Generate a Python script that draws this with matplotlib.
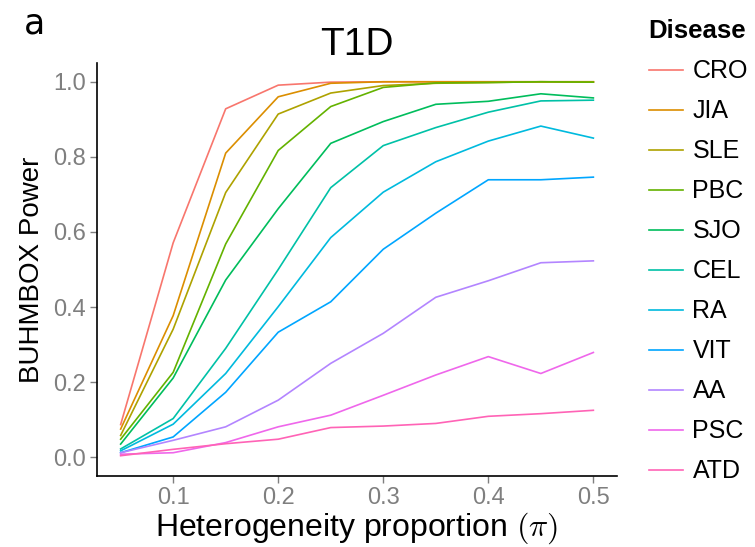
import matplotlib.pyplot as plt
import numpy as np

plt.rcParams['font.family'] = ['Liberation Sans', 'DejaVu Sans']
plt.rcParams['mathtext.fontset'] = 'cm'

# heterogeneity proportion
pi_vals = [0.05, 0.10, 0.15, 0.20, 0.25, 0.30, 0.35, 0.40, 0.45, 0.50]

diseases = ['CRO', 'JIA', 'SLE', 'PBC', 'SJO', 'CEL', 'RA', 'VIT', 'AA', 'PSC', 'ATD']
colors = ['#F8766D', '#DB8E00', '#AEA200', '#64B200', '#00BD5C', '#00C1A7',
          '#00BADE', '#00A6FF', '#B385FF', '#EF67EB', '#FF63B6']

cro = [0.087, 0.571, 0.928, 0.991, 0.999, 1.0, 1.0, 1.0, 1.0, 1.0]
jia = [0.075, 0.377, 0.810, 0.960, 0.996, 1.0, 1.0, 1.0, 1.0, 1.0]
sle = [0.058, 0.341, 0.705, 0.914, 0.970, 0.990, 0.996, 0.998, 1.0, 0.999]
pbc = [0.048, 0.226, 0.568, 0.817, 0.934, 0.985, 0.997, 0.998, 1.0, 0.999]
sjo = [0.035, 0.211, 0.472, 0.662, 0.836, 0.894, 0.940, 0.948, 0.968, 0.957]
cel = [0.022, 0.103, 0.290, 0.500, 0.718, 0.830, 0.878, 0.919, 0.949, 0.951]
ra = [0.017, 0.088, 0.223, 0.401, 0.585, 0.706, 0.787, 0.842, 0.882, 0.850]
vit = [0.012, 0.054, 0.173, 0.333, 0.414, 0.554, 0.650, 0.739, 0.739, 0.746]
aa = [0.012, 0.045, 0.081, 0.152, 0.250, 0.330, 0.426, 0.470, 0.518, 0.523]
psc = [0.008, 0.012, 0.039, 0.081, 0.112, 0.165, 0.219, 0.268, 0.223, 0.279]
atd = [0.004, 0.021, 0.036, 0.048, 0.079, 0.083, 0.090, 0.109, 0.116, 0.125]

series = [cro, jia, sle, pbc, sjo, cel, ra, vit, aa, psc, atd]

fig = plt.figure(figsize=(7.55, 5.47), dpi=100)
ax = fig.add_axes([97 / 755, 71 / 547, 520 / 755, 413 / 547])

for name, vals, c in zip(diseases, series, colors):
    ax.plot(pi_vals, vals, color=c, lw=1.2, label=name)

ax.set_xlim(0.05 - 0.0225, 0.5 + 0.0225)
ax.set_ylim(-0.05, 1.05)
ax.set_xticks([0.1, 0.2, 0.3, 0.4, 0.5])
ax.set_xticklabels(['0.1', '0.2', '0.3', '0.4', '0.5'])
ax.set_yticks([0.0, 0.2, 0.4, 0.6, 0.8, 1.0])
ax.set_yticklabels(['0.0', '0.2', '0.4', '0.6', '0.8', '1.0'])

for s in ['top', 'right']:
    ax.spines[s].set_visible(False)
for s in ['left', 'bottom']:
    ax.spines[s].set_color('black')
    ax.spines[s].set_linewidth(1.2)
ax.tick_params(colors='#7f7f7f', labelsize=17, length=5, width=1.0, pad=3)

ax.set_xlabel(r'Heterogeneity proportion $(\pi)$', fontsize=23, labelpad=1)
ax.set_ylabel('BUHMBOX Power', fontsize=20, labelpad=6)
ax.set_title('T1D', fontsize=28, pad=6)

fig.text(34 / 755, 1 - 24 / 547, 'a', fontsize=25, va='center', ha='center',
         family='DejaVu Sans')

leg = ax.legend(loc='upper left', bbox_to_anchor=(641 / 755, 1 - 12 / 547),
                bbox_transform=fig.transFigure, frameon=False, fontsize=18,
                title='Disease', title_fontproperties={'weight': 'bold', 'size': 18.5},
                handlelength=1.36, handletextpad=0.4, labelspacing=0.64,
                alignment='left', borderaxespad=0, borderpad=0.3)

fig.savefig('out.png', dpi=100)
